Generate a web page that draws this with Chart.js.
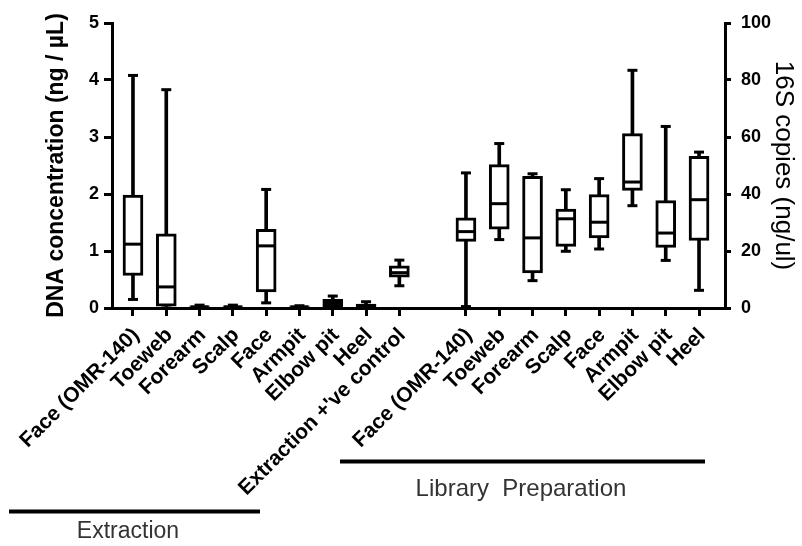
<!DOCTYPE html>
<html>
<head>
<meta charset="utf-8">
<script src="https://cdn.jsdelivr.net/npm/chart.js@4.4.1/dist/chart.umd.min.js"></script>
<style>
  html, body { margin: 0; padding: 0; background: #fff; }
</style>
</head>
<body>
<canvas id="grafico" width="802" height="546"></canvas>
<script>
// sitios de la extraccion (eje izquierdo, ng/uL)
const extLabels = ["Face (OMR-140)", "Toeweb", "Forearm", "Scalp", "Face", "Armpit", "Elbow pit", "Heel", "Extraction +'ve control"];
const extMin = [0.15, 0.00, 0.00, 0.00, 0.09, 0.00, 0.00, 0.00, 0.39];
const extQ1  = [0.57, 0.03, 0.00, 0.00, 0.28, 0.00, 0.02, 0.01, 0.54];
const extMed = [1.12, 0.37, 0.02, 0.02, 1.09, 0.02, 0.08, 0.04, 0.62];
const extQ3  = [1.98, 1.30, 0.04, 0.04, 1.38, 0.04, 0.15, 0.07, 0.74];
const extMax = [4.08, 3.83, 0.05, 0.05, 2.08, 0.04, 0.21, 0.11, 0.84];

// preparacion de librerias (eje derecho, copias 16S)
const libLabels = ["Face (OMR-140)", "Toeweb", "Forearm", "Scalp", "Face", "Armpit", "Elbow pit", "Heel"];
const libMin = [0.5, 24.0, 9.6, 19.9, 20.7, 35.9, 16.7, 6.2];
const libQ1  = [23.4, 27.7, 12.3, 21.6, 24.6, 41.3, 21.3, 23.7];
const libMed = [26.8, 36.6, 24.6, 31.3, 30.1, 44.2, 26.3, 38.0];
const libQ3  = [31.6, 50.3, 46.2, 34.7, 39.8, 61.2, 37.7, 53.2];
const libMax = [47.4, 57.7, 47.1, 41.5, 45.4, 83.4, 63.7, 54.7];

const leftTicks = [0, 1, 2, 3, 4, 5];
const rightTicks = [0, 20, 40, 60, 80, 100];

// posiciones en el eje x (hay un hueco entre los dos grupos)
const extPos = extLabels.map((l, i) => i);
const libPos = libLabels.map((l, i) => i + extLabels.length + 1);
const allPos = extPos.concat(libPos);
const allLabels = extLabels.concat(libLabels);

const fuente = "'Liberation Sans', Arial, sans-serif";

function cajas(pos, lo, hi) {
  return pos.map((x, i) => ({ x: x, y: [lo[i], hi[i]] }));
}
function puntos(pos, vals) {
  return pos.map((x, i) => ({ x: x, y: vals[i] }));
}

const bigotes = { barThickness: 3, backgroundColor: "#000", borderWidth: 0, grouped: false, order: 3 };
const caja = { barThickness: 20, backgroundColor: "#fff", borderColor: "#000", borderWidth: 3, borderSkipped: false, grouped: false, order: 2 };
const linea = { type: "line", showLine: false, pointStyle: "line", pointBorderColor: "#000", pointBorderWidth: 3, order: 1 };

const datasets = [
  Object.assign({ type: "bar", data: cajas(extPos, extMin, extMax), yAxisID: "y" }, bigotes),
  Object.assign({ type: "bar", data: cajas(libPos, libMin, libMax), yAxisID: "y2" }, bigotes),
  Object.assign({ type: "bar", data: cajas(extPos, extQ1, extQ3), yAxisID: "y" }, caja),
  Object.assign({ type: "bar", data: cajas(libPos, libQ1, libQ3), yAxisID: "y2" }, caja),
  Object.assign({ data: puntos(extPos, extMed), yAxisID: "y", pointRadius: 9 }, linea),
  Object.assign({ data: puntos(libPos, libMed), yAxisID: "y2", pointRadius: 9 }, linea),
  Object.assign({ data: puntos(extPos, extMin).concat(puntos(extPos, extMax)), yAxisID: "y", pointRadius: 5 }, linea),
  Object.assign({ data: puntos(libPos, libMin).concat(puntos(libPos, libMax)), yAxisID: "y2", pointRadius: 5 }, linea)
];

// lineas de grupo y textos debajo de las etiquetas
const grupos = {
  id: "grupos",
  afterDraw(chart) {
    const ctx = chart.ctx;
    ctx.save();
    ctx.strokeStyle = "#000";
    ctx.lineWidth = 4;
    ctx.beginPath();
    ctx.moveTo(9, 511.5); ctx.lineTo(260, 511.5);
    ctx.moveTo(340, 461.5); ctx.lineTo(705, 461.5);
    ctx.stroke();
    ctx.fillStyle = "#333";
    ctx.font = "23px " + fuente;
    ctx.textAlign = "center";
    ctx.textBaseline = "middle";
    ctx.fillText("Extraction", 128, 532);
    ctx.font = "24px " + fuente;
    ctx.fillText("Library  Preparation", 521, 489);
    ctx.restore();
  }
};

const ejeNegro = { display: true, color: "#000", width: 3 };

new Chart(document.getElementById("grafico"), {
  type: "bar",
  data: { datasets: datasets },
  plugins: [grupos],
  options: {
    responsive: false,
    animation: false,
    layout: { padding: { top: 23, right: 0, bottom: 0, left: 0 } },
    plugins: { legend: { display: false }, tooltip: { enabled: false } },
    scales: {
      x: {
        type: "linear",
        min: -0.63,
        max: 17.78,
        offset: false,
        border: ejeNegro,
        grid: { offset: false, drawOnChartArea: false, drawTicks: true, tickLength: 8, color: "#000", lineWidth: 3 },
        afterBuildTicks: (axis) => { axis.ticks = allPos.map(v => ({ value: v })); },
        afterFit: (axis) => { axis.height = 238; },
        ticks: {
          autoSkip: false,
          minRotation: 45,
          maxRotation: 45,
          padding: 7,
          labelOffset: 3,
          color: "#000",
          font: { family: fuente, size: 21, weight: "bold" },
          callback: (v) => allLabels[allPos.indexOf(v)]
        }
      },
      y: {
        position: "left",
        min: 0,
        max: 5,
        border: ejeNegro,
        grid: { drawOnChartArea: false, drawTicks: true, tickLength: 8, color: "#000", lineWidth: 3 },
        afterBuildTicks: (axis) => { axis.ticks = leftTicks.map(v => ({ value: v })); },
        afterFit: (axis) => { axis.width = 112; },
        ticks: { padding: 5, color: "#000", font: { family: fuente, size: 18, weight: "bold" } },
        title: {
          display: true,
          text: "DNA concentration (ng / µL)",
          color: "#000",
          padding: { top: 43, bottom: 0 },
          font: { family: fuente, size: 23, weight: "bold" }
        }
      },
      y2: {
        position: "right",
        min: 0,
        max: 100,
        border: ejeNegro,
        grid: { drawOnChartArea: false, drawTicks: true, tickLength: 6, color: "#000", lineWidth: 3 },
        afterBuildTicks: (axis) => { axis.ticks = rightTicks.map(v => ({ value: v })); },
        afterFit: (axis) => { axis.width = 77; },
        ticks: { padding: 10, color: "#000", font: { family: fuente, size: 18, weight: "bold" } },
        title: {
          display: true,
          text: "16S copies (ng/ul)",
          color: "#000",
          padding: { top: 3, bottom: 0 },
          font: { family: fuente, size: 26 }
        }
      }
    }
  }
});
</script>
</body>
</html>
